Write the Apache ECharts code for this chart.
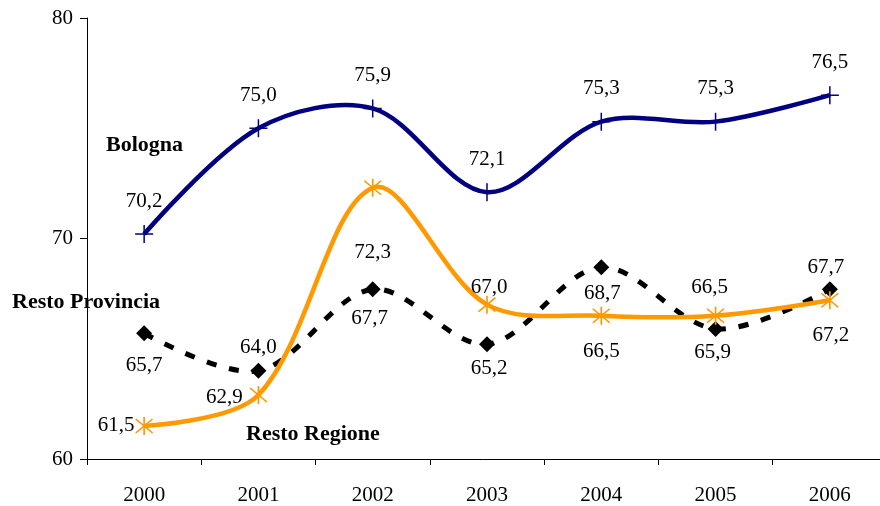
<!DOCTYPE html>
<html>
<head>
<meta charset="utf-8">
<script src="https://cdn.jsdelivr.net/npm/echarts@6/dist/echarts.min.js"></script>
<style>
  html, body { margin: 0; padding: 0; background: #fff; }
  #chart { width: 880px; height: 506px; }
</style>
</head>
<body>
<div id="chart"></div>
<script>
// Years on the category axis
const years = ['2000', '2001', '2002', '2003', '2004', '2005', '2006'];

// Series values
const bologna        = [70.2, 75.0, 75.9, 72.1, 75.3, 75.3, 76.5];
const restoProvincia = [65.7, 64.0, 67.7, 65.2, 68.7, 65.9, 67.7];
const restoRegione   = [61.5, 62.9, 72.3, 67.0, 66.5, 66.5, 67.2];

// Value axis range and ticks
const yMin = 60, yMax = 80, yStep = 10;

// Label placement per point (offset from the marker centre)
const bolognaLabelOffsets   = [[0,-33],[0,-33],[0,-33],[0,-33],[0,-33],[0,-33],[0,-33]];
const provinciaLabelOffsets = [[0,32],[0,-23],[-3,29],[2,24],[1,26],[-3,24],[-4,-22]];
const regioneLabelOffsets   = [[-28,0],[-34,2],[0,65],[2,-17],[0,36],[-6,-28],[1,35]];

const FONT = '"Liberation Serif", "Times New Roman", serif';

const plusSymbol = 'path://M8.25,0H9.75V8.25H18V9.75H9.75V18H8.25V9.75H0V8.25H8.25Z';
const starSymbol = 'path://M9.25,1L10.75,1L10.75,19L9.25,19Z' +
  'M3.01,2.45L18.01,16.45L16.99,17.55L1.99,3.55Z' +
  'M16.99,2.45L18.01,3.55L3.01,17.55L1.99,16.45Z';

const fmt = v => v.toFixed(1).replace('.', ',');

function withLabels(values, offsets) {
  return values.map((v, i) => ({
    value: v,
    label: { show: true, position: 'inside', offset: offsets[i], formatter: fmt(v) }
  }));
}

const labelStyle = { color: '#000', fontFamily: FONT, fontSize: 21 };

// Unclamped cardinal-spline curve through all points of a series,
// placed with the chart's own coordinate system.
function curveSeries(name, values, style, z) {
  return {
    name: name,
    type: 'custom',
    data: values.map((v, i) => [i, v]),
    z: z,
    silent: true,
    renderItem: function (params, api) {
      if (params.dataIndex !== 0) return null;
      const pts = values.map((v, i) => api.coord([i, v]));
      return {
        type: 'polyline',
        shape: { points: pts, smooth: 0.33 },
        style: Object.assign({ fill: null, lineCap: 'butt', lineJoin: 'round' }, style)
      };
    }
  };
}

function markerSeries(name, values, offsets, symbol, size, color, z) {
  return {
    name: name,
    type: 'line',
    data: withLabels(values, offsets),
    symbol: symbol,
    symbolSize: size,
    showAllSymbol: true,
    lineStyle: { width: 0, opacity: 0 },
    itemStyle: { color: color },
    label: labelStyle,
    z: z
  };
}

const chart = echarts.init(document.getElementById('chart'), null, { renderer: 'canvas' });
chart.setOption({
  animation: false,
  backgroundColor: '#fff',
  grid: {
    left: 87, top: 18, width: 800, height: 441,
    containLabel: false,
    outerBoundsMode: 'none'
  },
  xAxis: {
    type: 'category',
    data: years,
    boundaryGap: true,
    axisLine: { lineStyle: { color: '#000', width: 1 } },
    axisTick: { show: true, length: 6, lineStyle: { color: '#000' } },
    axisLabel: { color: '#000', fontFamily: FONT, fontSize: 21, margin: 26 },
    splitLine: { show: false }
  },
  yAxis: {
    type: 'value',
    min: yMin, max: yMax, interval: yStep,
    axisLine: { show: true, lineStyle: { color: '#000', width: 1 } },
    axisTick: { show: true, length: 7, lineStyle: { color: '#000' } },
    axisLabel: { color: '#000', fontFamily: FONT, fontSize: 21, margin: 14 },
    splitLine: { show: false }
  },
  series: [
    curveSeries('Bologna line', bologna, { stroke: '#000080', lineWidth: 4.5 }, 3),
    curveSeries('Resto Provincia line', restoProvincia,
      { stroke: '#000', lineWidth: 5, lineDash: [10, 13] }, 2),
    curveSeries('Resto Regione line', restoRegione, { stroke: '#FF9900', lineWidth: 4.5 }, 4),
    markerSeries('Bologna', bologna, bolognaLabelOffsets, plusSymbol, 18, '#000080', 6),
    markerSeries('Resto Provincia', restoProvincia, provinciaLabelOffsets, 'diamond', 16, '#000', 5),
    markerSeries('Resto Regione', restoRegione, regioneLabelOffsets, starSymbol, 18, '#FF9900', 7)
  ],
  graphic: [
    { type: 'text', left: 106, top: 134,
      style: { text: 'Bologna', font: 'bold 22px ' + FONT, fill: '#000' } },
    { type: 'text', left: 12, top: 291,
      style: { text: 'Resto Provincia', font: 'bold 22px ' + FONT, fill: '#000' } },
    { type: 'text', left: 246, top: 423,
      style: { text: 'Resto Regione', font: 'bold 22px ' + FONT, fill: '#000' } }
  ]
});
</script>
</body>
</html>
